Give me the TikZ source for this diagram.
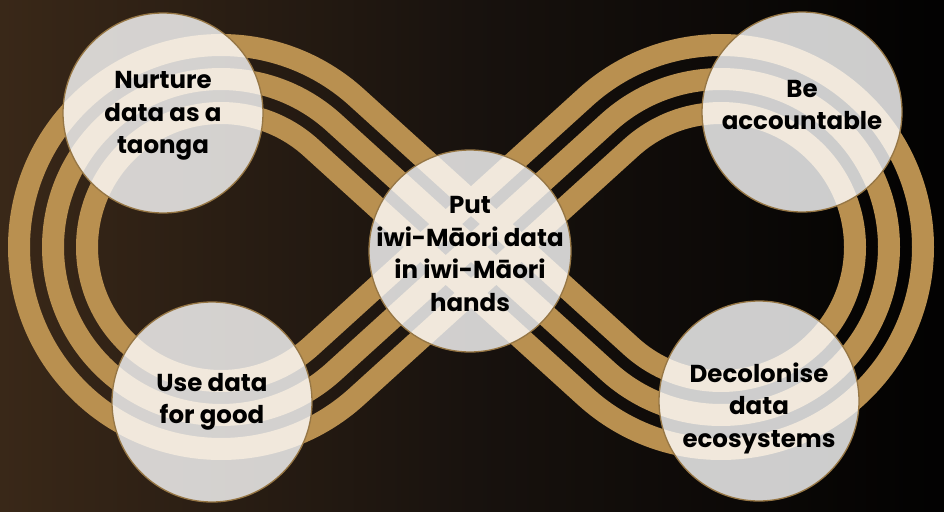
\documentclass[tikz,border=0pt]{standalone}
\usepackage{fontspec}
\setmainfont{Poppins}
\usetikzlibrary{calc}

\definecolor{gold}{RGB}{185,144,80}
\definecolor{rim}{RGB}{150,118,68}
\definecolor{bark}{RGB}{24,18,14}

\begin{document}
\begin{tikzpicture}[x=1pt, y=-1pt,
  band/.style={gold, line width=22pt, line join=round},
  bubble/.style={circle, draw=rim, line width=1.3pt, fill=white, fill opacity=.8,
    minimum size=200pt, inner sep=0pt},
  words/.style={align=center, text=black, inner sep=0pt,
    font=\bfseries\fontsize{24.5}{32.5}\selectfont}]
\shade[left color=bark!80!brown, right color=black!90!bark, middle color=bark] (0,0) rectangle (944,511);
\useasboundingbox (0,0) rectangle (944,511);
\coordinate (CL) at (221,247);
\coordinate (CR) at (721,247);
\foreach \k in {-34,0,34} {
 \draw[band] ([shift={(132.22:168+\k)}]CR) arc[start angle=132.22, end angle=-132.22, radius=168+\k]
   -- ([shift={(47.78:168-\k)}]CL) arc[start angle=47.78, end angle=312.22, radius=168-\k] -- cycle;
}
\node[bubble] (nurture) at (163,113) {};
\node[bubble] (account) at (802,112) {};
\node[bubble] (good) at (212,402) {};
\node[bubble] (decolonise) at (759,401) {};
\node[bubble, minimum size=202pt] (hands) at (470,251) {};
\node[words] (nurtureT) at ([yshift=-3pt]nurture) {Nurture\\data as a\\taonga};
\node[words] (accountT) at ([yshift=7pt]account) {Be\\accountable};
\node[words] (goodT) at (good) {Use data\\for good};
\node[words] (decoloniseT) at ([yshift=-7pt]decolonise) {Decolonise\\data\\ecosystems};
\node[words] (handsT) at ([yshift=-3pt]hands) {Put\\iwi-Māori data\\in iwi-Māori\\hands};
\end{tikzpicture}
\end{document}
